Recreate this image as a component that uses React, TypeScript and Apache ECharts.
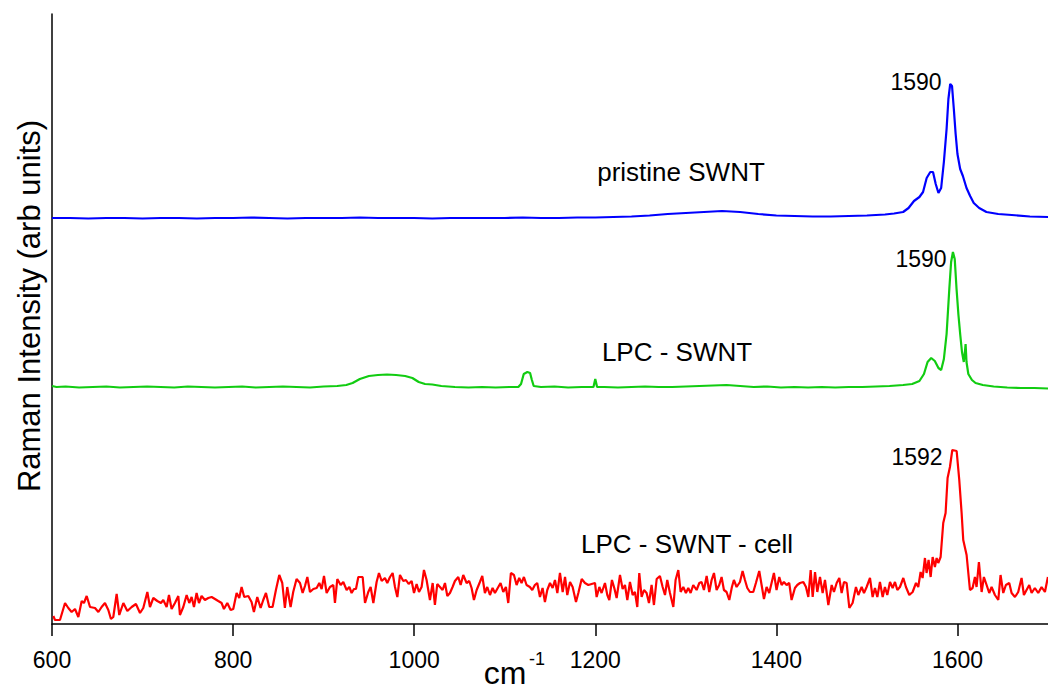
import React, { useEffect, useRef } from "react";
import * as echarts from "echarts";

// x tick labels (Raman shift, cm-1)
const xTicks = [600, 800, 1000, 1200, 1400, 1600];

// pristine SWNT (offset trace, arb units)
const blueX = [600,620,640,660,680,700,720,740,760,780,800,820,840,860,880,900,920,940,960,980,1000,1020,1040,1060,1080,1100,1120,1140,1160,1180,1200,1220,1240,1260,1280,1300,1320,1340,1360,1380,1400,1420,1440,1460,1480,1500,1520,1530,1540,1546,1552,1558,1562,1566,1570,1573,1576,1579,1582,1585,1588,1590,1592,1594,1596,1598,1600,1603,1606,1610,1614,1618,1624,1632,1645,1660,1680,1700];
const blueY = [406,406,405.5,406,406,405.5,406,406,405.5,406,406,406.5,406,405.5,406,406,406,406.5,406,406,406,405.5,406,406,406,406,406.5,406,406,406.5,406.5,407,407.5,408.5,410,411,412,413,412,410,408.5,408,407.5,407.5,408,408.5,409.5,410.5,412,416,423,427,432,446,452,452,440,431,436,462,495,525,540,538,515,490,470,455,448,436,428,421,416,412,410,409,407.5,407];

// LPC - SWNT
const greenX = [600,605,615,630,645,660,675,690,705,720,735,750,765,780,795,810,825,840,855,870,885,900,915,925,932,940,950,960,970,980,990,998,1005,1012,1020,1030,1045,1060,1075,1090,1105,1115,1118,1121,1125,1128,1130,1132,1140,1155,1170,1185,1198,1200,1202,1210,1225,1240,1255,1270,1285,1300,1315,1330,1345,1360,1375,1390,1405,1420,1435,1450,1465,1480,1495,1510,1525,1540,1550,1558,1563,1567,1571,1575,1579,1582,1585,1588,1591,1593,1595,1597,1599,1601,1603,1605,1607,1608,1609,1610,1612,1616,1620,1628,1640,1655,1670,1685,1700];
const greenY = [238,237,237.5,236.5,237,237.5,236.5,237,237.5,237,236.5,237.5,237,236.5,237,237.5,236.5,237,237.5,237,236.5,237.5,238,239,241,245,248,249,249.5,249,248,246,242,240,239.5,238,237,236.5,237,236.5,237,237,240,250,252,251,244,238,237,237.5,236.5,237,237,245,237,237,236.5,237,237.5,237,237,237.5,238,238.5,239,238,237,237.5,236.5,237,236.5,237,236.5,237,237,237.5,238,239,240,243,250,262,266,263,256,254,265,290,335,362,372,365,335,310,290,272,262,270,280,262,250,244,241,239,237.5,236.5,236,236,235.5];

// LPC - SWNT - cell
const redX = [601.5,603.3,608.8,614.4,618.0,621.7,625.4,629.1,632.8,635.3,638.3,642.0,647.5,651.2,654.8,658.5,662.2,665.1,667.7,671.4,674.3,678.8,683.2,688.0,692.7,697.2,700.8,705.3,708.2,711.9,716.3,720.3,722.9,726.6,729.2,732.1,735.8,739.5,741.3,745.0,748.7,751.6,754.2,756.8,759.7,762.3,765.2,768.9,772.6,776.3,780.0,783.6,787.3,789.9,793.6,797.3,800.2,803.9,806.8,809.4,812.3,816.8,820.4,823.0,826.7,830.4,833.3,836.3,839.9,843.6,847.3,851.0,854.3,857.2,859.8,863.5,866.4,870.1,
873.9,876.8,879.4,882.0,884.9,888.6,892.3,895.2,897.8,900.4,903.3,907.0,910.7,912.5,915.1,918.8,921.7,925.4,928.4,930.9,933.5,935.7,938.3,943.1,945.7,949.3,951.9,954.9,958.5,961.1,964.1,967.7,970.3,973.3,976.2,978.8,981.4,984.3,988.0,990.9,993.9,997.2,999.8,1002.7,1005.3,1008.2,1010.8,1013.7,1017.4,1020.4,1022.9,1025.5,1028.5,1031.4,1034.0,1036.6,1039.5,1042.4,1045.0,1048.7,1051.3,1054.2,1057.9,1060.8,1063.4,1066.0,1069.0,1072.6,1075.2,1078.1,1080.7,1083.7,1086.6,1089.2,1092.9,1095.4,1098.4,1101.3,1103.9,1106.8,1110.2,1113.1,1116.0,1118.6,1121.2,1124.1,1127.8,1130.4,1133.3,1135.9,1138.9,1141.8,1144.4,1147.0,
1150.0,1152.9,1155.5,1158.1,1161.0,1164.0,1166.6,1169.1,1172.1,1175.0,1178.7,1181.3,1185.0,1188.6,1192.3,1196.0,1199.7,1201.5,1204.5,1207.0,1210.7,1213.3,1215.5,1218.4,1221.0,1223.6,1227.3,1230.2,1232.8,1235.4,1238.3,1241.3,1243.8,1246.4,1248.6,1251.2,1253.8,1256.7,1259.3,1262.2,1264.8,1267.8,1271.4,1274.4,1277.0,1279.5,1282.5,1286.2,1288.7,1291.7,1294.3,1297.2,1300.1,1302.7,1305.3,1308.2,1311.9,1314.9,1317.4,1320.0,1323.0,1325.9,1328.5,1331.1,1334.0,1336.9,1339.5,1342.1,1345.0,1348.0,1350.9,1353.1,1356.1,1359.8,1362.7,1365.3,1367.9,1370.8,1374.5,1377.4,1381.1,1383.7,1386.3,1389.2,1392.1,1394.7,1397.3,1400.2,1403.2,1405.8,1408.3,1411.3,1414.2,1416.8,1420.5,1423.1,
1426.1,1429.8,1432.7,1435.3,1437.9,1440.1,1442.7,1445.2,1448.2,1451.1,1453.7,1457.4,1461.1,1463.6,1466.6,1469.5,1472.1,1474.7,1477.6,1480.6,1484.2,1487.9,1490.5,1494.2,1496.8,1499.7,1503.4,1506.3,1508.9,1511.5,1514.4,1517.4,1519.9,1522.5,1525.5,1528.4,1531.0,1533.6,1536.5,1540.2,1543.1,1546.8,1550.5,1554.2,1556.7,1559.3,1561.5,1564.1,1565.9,1568.1,1570.4,1572.6,1575.1,1577.0,1578.8,1581.4,1584.3,1586.9,1589.1,1591.7,1594.3,1599.1,1602.0,1604.6,1606.4,1610.1,1613.8,1616.7,1619.3,1621.1,1623.7,1626.7,1629.2,1632.2,1635.1,1637.7,1641.4,1645.1,1647.6,1650.6,1653.5,1657.2,1659.8,1663.5,1667.1,1670.8,1673.4,1676.3,1679.3,1681.9,1685.5,1689.2,1692.9,1696.6,1699.9];
const redY = [8,4,4,21,16,12,15,7,23,21,28,17,16,12,17,21,14,5,7,30,9,21,13,17,20,11,16,32,17,26,23,21,24,17,29,15,21,28,9,17,29,21,27,17,31,21,28,24,26,27,25,23,21,15,21,14,15,31,26,37,27,28,22,12,27,16,24,31,17,17,34,49,41,16,37,17,32,45,
41,31,38,47,32,35,36,41,35,48,31,37,39,21,45,39,42,34,37,31,35,35,47,47,21,32,37,21,42,51,43,46,41,47,51,37,27,49,43,44,40,43,31,40,32,37,54,44,24,41,19,40,37,34,41,28,31,37,43,47,39,49,41,43,36,24,34,42,48,31,37,29,36,31,37,41,32,37,21,51,49,39,46,41,47,39,37,34,39,41,27,36,22,34,
41,36,44,31,51,32,47,29,42,37,22,31,45,41,39,40,41,27,37,31,41,29,24,44,36,26,49,35,39,24,42,29,32,17,51,27,34,31,21,39,19,45,48,37,29,44,31,17,44,54,32,37,31,36,31,39,34,41,42,34,48,32,44,51,34,39,47,34,32,24,37,44,37,42,53,44,36,32,32,41,53,39,25,37,31,41,51,34,47,39,42,39,41,24,36,39,
41,42,37,27,54,27,52,32,47,31,44,19,39,32,41,46,31,42,41,16,21,37,29,37,31,37,46,27,36,27,42,27,37,29,42,36,42,34,37,46,37,29,32,41,37,52,46,66,51,64,47,67,57,66,61,67,101,111,146,157,174,173,144,111,84,69,34,36,47,37,62,32,47,39,31,37,29,24,49,31,39,41,31,27,32,46,29,34,39,31,36,31,37,32,47];

const zip = (xs: number[], ys: number[]) => xs.map((x, i) => [x, ys[i]]);

const FONT = "'Liberation Sans', Arial, sans-serif";

export default function App() {
  const ref = useRef<HTMLDivElement>(null);
  useEffect(() => {
    if (!ref.current) return;
    const chart = echarts.init(ref.current, null, { renderer: "svg" });
    chart.setOption({
      animation: false,
      backgroundColor: "#ffffff",
      grid: { left: 52, right: 0, top: 14, bottom: 66 },
      xAxis: {
        type: "value",
        min: 600,
        max: 1700,
        interval: 200,
        axisLine: { show: true, onZero: false, lineStyle: { color: "#000", width: 1.5 } },
        axisTick: { show: true, inside: false, length: 12, customValues: xTicks, lineStyle: { color: "#000", width: 1.5 } },
        axisLabel: {
          show: true,
          margin: 24,
          customValues: xTicks,
          formatter: (v: number) => String(v),
          color: "#000",
          fontSize: 23,
          fontFamily: FONT,
        },
        splitLine: { show: false },
      },
      yAxis: {
        type: "value",
        min: 0,
        max: 610,
        axisLine: { show: true, lineStyle: { color: "#000", width: 1.5 } },
        axisTick: { show: false },
        axisLabel: { show: false },
        splitLine: { show: false },
      },
      series: [
        { type: "line", name: "LPC - SWNT - cell", data: zip(redX, redY), showSymbol: false, lineStyle: { color: "#ff0000", width: 2.2 }, itemStyle: { color: "#ff0000" } },
        { type: "line", name: "LPC - SWNT", data: zip(greenX, greenY), showSymbol: false, lineStyle: { color: "#11cc11", width: 2.2 }, itemStyle: { color: "#11cc11" } },
        { type: "line", name: "pristine SWNT", data: zip(blueX, blueY), showSymbol: false, lineStyle: { color: "#0000ff", width: 2.2 }, itemStyle: { color: "#0000ff" } },
      ],
      graphic: [
        { type: "text", x: 29, y: 306, rotation: Math.PI / 2, style: { text: "Raman Intensity (arb units)", fontSize: 31, fontFamily: FONT, fill: "#000", textAlign: "center", textVerticalAlign: "middle" } },
        { type: "text", x: 505, y: 673, style: { text: "cm", fontSize: 32, fontFamily: FONT, fill: "#000", textAlign: "center", textVerticalAlign: "middle" } },
        { type: "text", x: 537, y: 659, style: { text: "-1", fontSize: 18, fontFamily: FONT, fill: "#000", textAlign: "center", textVerticalAlign: "middle" } },
        { type: "text", x: 681, y: 172, style: { text: "pristine SWNT", fontSize: 26, fontFamily: FONT, fill: "#000", textAlign: "center", textVerticalAlign: "middle" } },
        { type: "text", x: 677, y: 352, style: { text: "LPC - SWNT", fontSize: 26, fontFamily: FONT, fill: "#000", textAlign: "center", textVerticalAlign: "middle" } },
        { type: "text", x: 687, y: 544, style: { text: "LPC - SWNT - cell", fontSize: 26, fontFamily: FONT, fill: "#000", textAlign: "center", textVerticalAlign: "middle" } },
        { type: "text", x: 916, y: 82, style: { text: "1590", fontSize: 23, fontFamily: FONT, fill: "#000", textAlign: "center", textVerticalAlign: "middle" } },
        { type: "text", x: 921, y: 259, style: { text: "1590", fontSize: 23, fontFamily: FONT, fill: "#000", textAlign: "center", textVerticalAlign: "middle" } },
        { type: "text", x: 917, y: 457, style: { text: "1592", fontSize: 23, fontFamily: FONT, fill: "#000", textAlign: "center", textVerticalAlign: "middle" } },
      ],
    });
    return () => chart.dispose();
  }, []);
  return (
    <div
      ref={ref}
      style={{ position: "fixed", left: 0, top: 0, width: 1048, height: 690, background: "#fff" }}
    />
  );
}
